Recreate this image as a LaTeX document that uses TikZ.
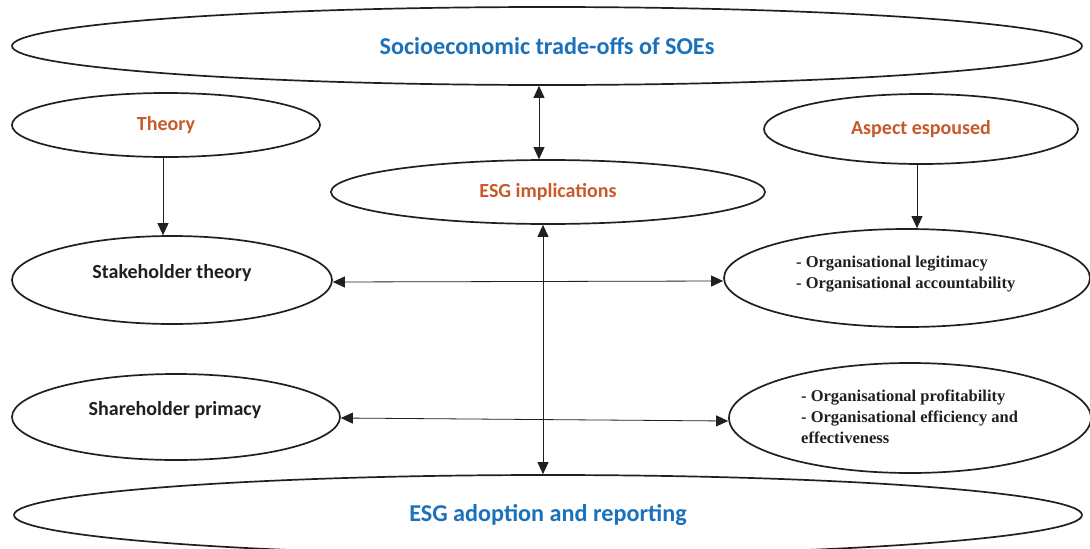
\documentclass[tikz,border=0pt]{standalone}
\usepackage{fontspec}
\setmainfont{Carlito}
\newfontfamily\tnr{Liberation Serif}
\usetikzlibrary{shapes.geometric,arrows.meta}
\definecolor{ttlblue}{RGB}{27,114,187}
\definecolor{lblorange}{RGB}{200,89,42}
\definecolor{txtdark}{RGB}{35,31,32}
\tikzset{
  ell/.style={ellipse,draw=txtdark,line width=1.7pt,inner sep=0pt,fill=white},
  bigtxt/.style={font=\bfseries\fontsize{24.2}{28}\selectfont,text=ttlblue},
  orgtxt/.style={font=\bfseries\fontsize{20}{24}\selectfont,text=lblorange},
  blktxt/.style={font=\bfseries\fontsize{20}{24}\selectfont,text=txtdark},
  sertxt/.style={font=\tnr\bfseries\fontsize{16.5}{21}\selectfont,text=txtdark,align=left,anchor=west,inner sep=0pt},
  con/.style={line width=0.8pt,draw=txtdark},
  tip/.style={-{Triangle[length=12pt,width=11pt]}},
  tips/.style={{Triangle[length=12pt,width=11pt]}-{Triangle[length=12pt,width=11pt]}}
}
\begin{document}
\begin{tikzpicture}[x=1pt,y=-1pt]
\useasboundingbox[fill=white] (0,0) rectangle (1090,549);
% ellipses
\node[ell,minimum width=1070pt,minimum height=78pt,bigtxt] (top) at (547,46) {Socioeconomic trade-offs of SOEs};
\node[ell,minimum width=308pt,minimum height=64pt,orgtxt] (theory) at (166,125) {Theory};
\node[ell,minimum width=314pt,minimum height=70pt,orgtxt] (aspect) at (921,129) {Aspect espoused};
\node[ell,minimum width=434pt,minimum height=64pt,orgtxt] (esg) at (548,192) {ESG implications};
\node[ell,minimum width=320pt,minimum height=88pt] (stake) at (172,280) {};
\node[ell,minimum width=328pt,minimum height=86pt] (share) at (176,417) {};
\node[ell,minimum width=366pt,minimum height=98pt] (org1) at (907,278) {};
\node[ell,minimum width=362pt,minimum height=110pt] (org2) at (910,418) {};
\node[ell,minimum width=1068pt,minimum height=80pt,bigtxt] (bot) at (548,515) {ESG adoption and reporting};
% texts
\node[blktxt] (staketxt) at (172,273) {Stakeholder theory};
\node[blktxt] (sharetxt) at (175,410) {Shareholder primacy};
\node[sertxt] (org1txt) at (796,274) {- Organisational legitimacy\\- Organisational accountability};
\node[sertxt] (org2txt) at (801,417) {- Organisational profitability\\- Organisational efficiency and\\effectiveness};
% connectors
\draw[con,tips] ([xshift=-8pt]top.south) -- ([xshift=-9pt]esg.north);
\draw[con,tips] ([xshift=-5pt]esg.south) -- ([xshift=-5pt]bot.north);
\draw[con,tip] ([xshift=-3pt]theory.south) -- ([xshift=-9pt]stake.north);
\draw[con,tip] ([xshift=-4pt]aspect.south) -- ([xshift=10pt]org1.north);
\draw[con,tips] ([yshift=-2pt]stake.east) -- ([yshift=-3pt]org1.west);
\draw[con,tips] ([yshift=-1pt]share.east) -- ([yshift=-3pt]org2.west);
\end{tikzpicture}
\end{document}
